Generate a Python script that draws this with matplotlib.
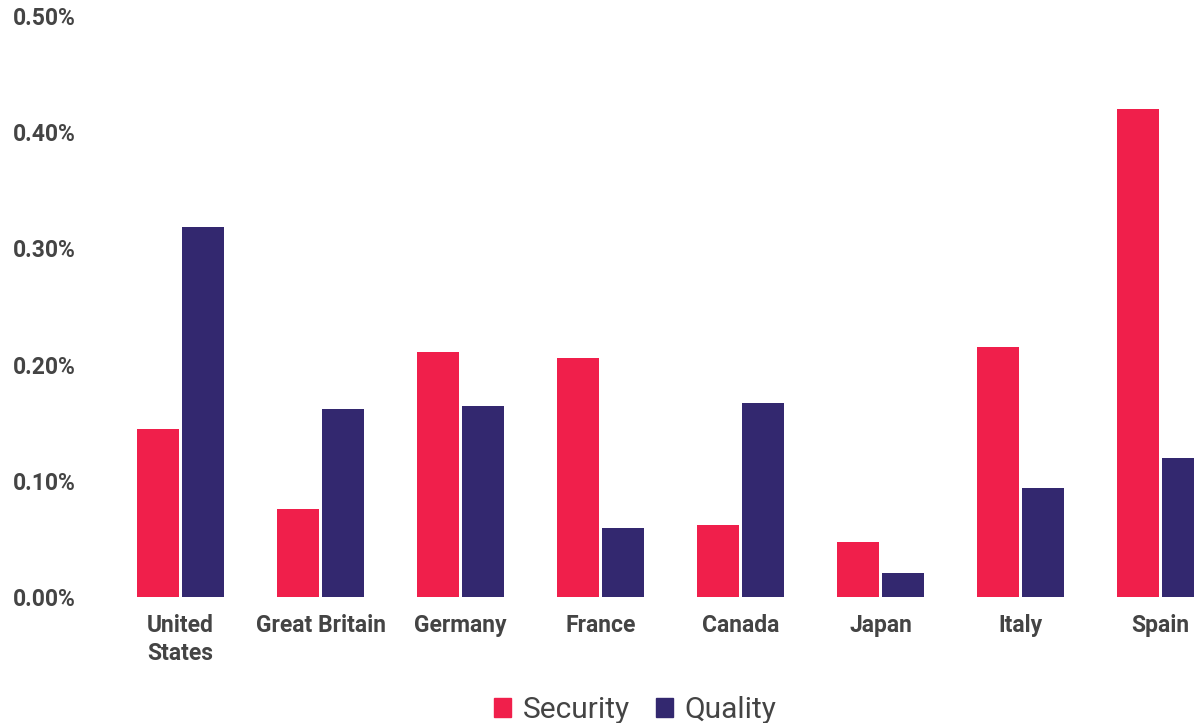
import matplotlib
matplotlib.use('Agg')
import matplotlib.pyplot as plt
from matplotlib.patches import Patch
import numpy as np

# ---------------------------------------------------------------------------
# Data (percent)
# ---------------------------------------------------------------------------

countries = ['United\nStates', 'Great Britain', 'Germany', 'France',
             'Canada', 'Japan', 'Italy', 'Spain']
security = [0.145, 0.076, 0.211, 0.206, 0.062, 0.047, 0.215, 0.420]
quality = [0.318, 0.162, 0.164, 0.059, 0.167, 0.021, 0.094, 0.120]
y_ticks = [0.0, 0.1, 0.2, 0.3, 0.4, 0.5]

RED = '#F01F4B'
NAVY = '#33286F'
TEXT = '#444444'

plt.rcParams['font.family'] = ['Roboto', 'DejaVu Sans']

fig = plt.figure(figsize=(11.94, 7.23), dpi=100, facecolor='white')
# axes runs past the right edge, the reference is cropped there
ax = fig.add_axes([110.5 / 1194, 126 / 723, 1120 / 1194, 581 / 723])

x = np.arange(len(countries))
w = 0.3
off = 0.161
ax.bar(x - off, security, width=w, color=RED, label='Security')
ax.bar(x + off, quality, width=w, color=NAVY, label='Quality')

ax.set_xlim(-0.5, len(countries) - 0.5)
ax.set_ylim(0, 0.5)
ax.set_yticks(y_ticks)
ax.set_yticklabels([f'{v:.2f}%' for v in y_ticks])
ax.set_xticks(x)
ax.set_xticklabels(countries, linespacing=1.3)

ax.tick_params(axis='y', length=0, pad=25, labelsize=16.5, labelcolor=TEXT)
ax.tick_params(axis='x', length=0, pad=12, labelsize=16.5, labelcolor=TEXT)
for lbl in ax.get_yticklabels():
    lbl.set_fontweight('bold')
for lbl in ax.get_xticklabels():
    lbl.set_fontweight('bold')

for spine in ax.spines.values():
    spine.set_visible(False)

handles = [Patch(color=RED, label='Security'), Patch(color=NAVY, label='Quality')]
fig.legend(handles=handles, loc='center', bbox_to_anchor=(0.532, 0.018),
           ncol=2, frameon=False, fontsize=21.5, labelcolor=TEXT,
           handlelength=0.57, handleheight=0.57, handletextpad=0.4,
           columnspacing=0.85)

fig.savefig('out.png', dpi=100, facecolor='white')
